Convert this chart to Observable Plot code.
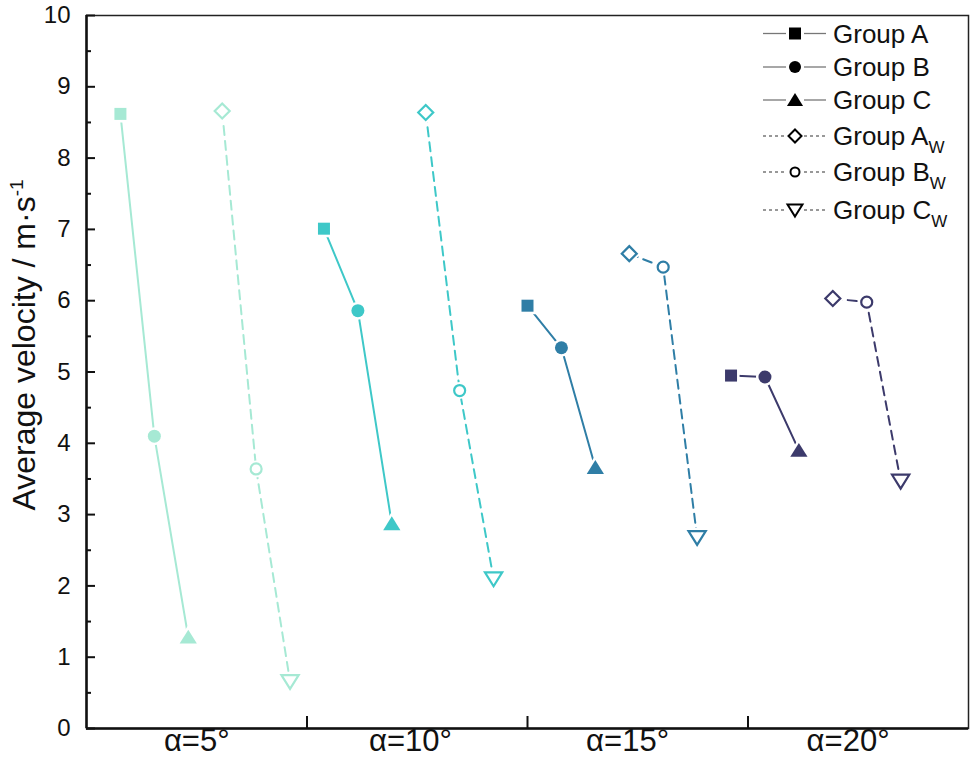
<!DOCTYPE html>
<html>
<head>
<meta charset="utf-8">
<script src="https://cdn.jsdelivr.net/npm/d3@7"></script>
<script src="https://cdn.jsdelivr.net/npm/@observablehq/plot@0.6"></script>
<style>
  html, body { margin: 0; padding: 0; background: #fff; }
  #chart { width: 974px; height: 766px; }
</style>
</head>
<body>
<div id="chart"></div>
<script>
// ---- data ----
const categories = ["α=5°", "α=10°", "α=15°", "α=20°"];
const seriesNames = ["Group A", "Group B", "Group C", "Group Aw", "Group Bw", "Group Cw"];
const groupA  = [8.62, 7.01, 5.93, 4.95];
const groupB  = [4.10, 5.86, 5.34, 4.93];
const groupC  = [1.28, 2.87, 3.66, 3.90];
const groupAw = [8.66, 8.64, 6.66, 6.03];
const groupBw = [3.64, 4.74, 6.47, 5.98];
const groupCw = [0.66, 2.10, 2.68, 3.47];
const yMajorTicks = [0, 1, 2, 3, 4, 5, 6, 7, 8, 9, 10];
const yMinorTicks = [0.5, 1.5, 2.5, 3.5, 4.5, 5.5, 6.5, 7.5, 8.5, 9.5];
const xSepTicks = [5.5, 12, 18.5];
const xLabelPos = [2.25, 8.55, 14.95, 21.45];
const colors = ["#a6e9d4", "#3ec8c8", "#2f7ea6", "#3c3a6b"];

const seriesValues = [groupA, groupB, groupC, groupAw, groupBw, groupCw];
const rows = [];
categories.forEach((cat, c) => {
  seriesValues.forEach((vals, s) => {
    rows.push({cat, series: seriesNames[s], idx: c * 6 + s, value: vals[c], wet: s >= 3});
  });
});

// ---- custom symbols ----
const rOf = size => Math.sqrt(size / Math.PI);
const symSquare = {draw(ctx, size) { const r = rOf(size); ctx.rect(-r, -r, 2 * r, 2 * r); }};
const symCircle = {draw(ctx, size) { const r = rOf(size); ctx.moveTo(r, 0); ctx.arc(0, 0, r, 0, 2 * Math.PI); }};
const symTriUp = {draw(ctx, size) { const r = rOf(size); ctx.moveTo(0, -r); ctx.lineTo(r * 1.15, r * 0.85); ctx.lineTo(-r * 1.15, r * 0.85); ctx.closePath(); }};
const symDiamond = {draw(ctx, size) { const r = rOf(size); ctx.moveTo(0, -r); ctx.lineTo(r, 0); ctx.lineTo(0, r); ctx.lineTo(-r, 0); ctx.closePath(); }};
const symTriDown = {draw(ctx, size) { const r = rOf(size); ctx.moveTo(0, r); ctx.lineTo(r * 1.15, -r * 0.85); ctx.lineTo(-r * 1.15, -r * 0.85); ctx.closePath(); }};

const markerDefs = [
  {series: "Group A",  sym: symSquare,  r: 6,   hollow: false},
  {series: "Group B",  sym: symCircle,  r: 6.5, hollow: false},
  {series: "Group C",  sym: symTriUp,   r: 7.5, hollow: false},
  {series: "Group Aw", sym: symDiamond, r: 7.5, hollow: true},
  {series: "Group Bw", sym: symCircle,  r: 5.5, hollow: true},
  {series: "Group Cw", sym: symTriDown, r: 7.5, hollow: true}
];

const font = "'Liberation Sans', Arial, Helvetica, sans-serif";
const W = 974, H = 766, mL = 86, mR = 6, mT = 15, mB = 38;
const frameW = W - mL - mR, frameH = H - mT - mB;

const dotMarks = [];
for (const m of markerDefs) {
  const data = rows.filter(d => d.series === m.series);
  if (m.hollow) {
    dotMarks.push(Plot.dot(data, {x: "idx", y: "value", symbol: m.sym, r: m.r, fill: "white", stroke: "white", strokeWidth: 6}));
    dotMarks.push(Plot.dot(data, {x: "idx", y: "value", symbol: m.sym, r: m.r, fill: "white", stroke: "cat", strokeWidth: 2.2}));
  } else {
    dotMarks.push(Plot.dot(data, {x: "idx", y: "value", symbol: m.sym, r: m.r, fill: "cat", stroke: "white", strokeWidth: 5, paintOrder: "stroke"}));
  }
}

const chart = Plot.plot({
  width: W, height: H,
  marginLeft: mL, marginRight: mR, marginTop: mT, marginBottom: mB,
  style: {fontFamily: font, background: "white", color: "#111"},
  x: {domain: [-1, 25], axis: null},
  y: {domain: [0, 10]},
  color: {domain: categories, range: colors},
  marks: [
    Plot.line(rows.filter(d => !d.wet), {x: "idx", y: "value", z: "cat", stroke: "cat", strokeWidth: 2}),
    Plot.line(rows.filter(d => d.wet), {x: "idx", y: "value", z: "cat", stroke: "cat", strokeWidth: 2, strokeDasharray: "9,6"}),
    ...dotMarks,
    Plot.frame({stroke: "#222", strokeWidth: 1.5}),
    Plot.ruleX([-1], {stroke: "#111", strokeWidth: 2.5}),
    Plot.ruleY([0], {stroke: "#111", strokeWidth: 2.5}),
    Plot.tickY(yMajorTicks, {y: d => d, insetRight: frameW - 9, stroke: "#111", strokeWidth: 2}),
    Plot.tickY(yMinorTicks, {y: d => d, insetRight: frameW - 5, stroke: "#111", strokeWidth: 2}),
    Plot.tickX(xSepTicks, {x: d => d, insetTop: frameH - 12, stroke: "#111", strokeWidth: 2}),
    Plot.axisY({ticks: yMajorTicks, tickSize: 0, tickPadding: 16, fontSize: 24, label: null}),
    Plot.text(categories, {x: (d, i) => xLabelPos[i], frameAnchor: "bottom", dy: 22, fontSize: 31, fill: "#111"})
  ]
});

document.getElementById("chart").appendChild(chart);

// ---- y-axis title with superscript ----
const svg = d3.select(chart);
const title = svg.append("text")
  .attr("transform", "translate(35,345) rotate(-90)")
  .attr("text-anchor", "middle")
  .attr("font-family", font)
  .attr("font-size", 32)
  .attr("fill", "#111");
title.append("tspan").text("Average velocity / m·s");
title.append("tspan").attr("font-size", 19).attr("dy", -12).text("-1");

// ---- legend ----
const legend = svg.append("g").attr("font-family", font).attr("fill", "#111").attr("text-anchor", "start");
const legendY = [33.5, 67, 100, 136, 172, 210];
markerDefs.forEach((m, i) => {
  const y = legendY[i];
  const g = legend.append("g").attr("transform", `translate(0,${y})`);
  const dash = m.hollow ? "3,3" : null;
  g.append("line").attr("x1", 763).attr("x2", 786).attr("y1", 0).attr("y2", 0)
    .attr("stroke", "#777").attr("stroke-width", 1.3).attr("stroke-dasharray", dash);
  g.append("line").attr("x1", 804).attr("x2", 826).attr("y1", 0).attr("y2", 0)
    .attr("stroke", "#777").attr("stroke-width", 1.3).attr("stroke-dasharray", dash);
  const lr = m.hollow ? (m.sym === symCircle ? 4.5 : 6.5) : (m.sym === symTriUp ? 7 : 6);
  g.append("path").attr("transform", "translate(795,0)")
    .attr("d", d3.symbol(m.sym, lr * lr * Math.PI)())
    .attr("fill", m.hollow ? "white" : "#000")
    .attr("stroke", m.hollow ? "#000" : "none")
    .attr("stroke-width", 2);
  const t = g.append("text").attr("x", 833).attr("y", 0).attr("dy", "0.36em")
    .attr("font-size", 26).attr("text-anchor", "start");
  const base = m.series.endsWith("w") ? m.series.slice(0, -1) : m.series;
  t.append("tspan").text(base);
  if (m.series.endsWith("w")) {
    t.append("tspan").attr("font-size", 17).attr("dy", 8).text("W");
  }
});
</script>
</body>
</html>
